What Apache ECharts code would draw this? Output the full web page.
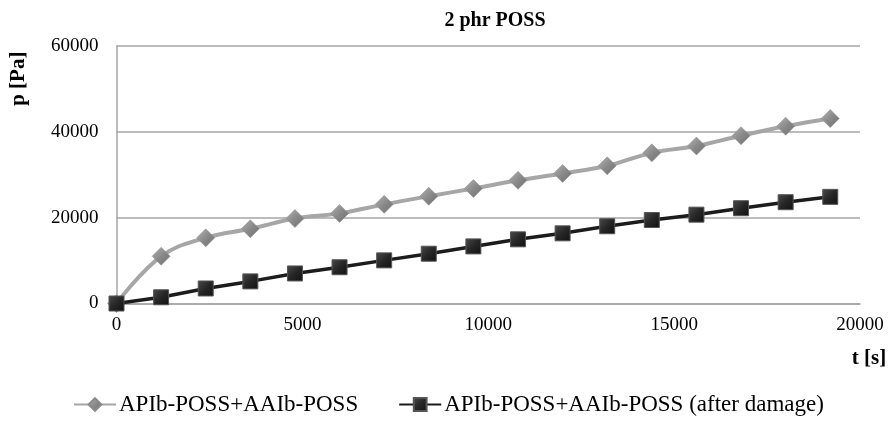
<!DOCTYPE html>
<html>
<head>
<meta charset="utf-8">
<script src="https://cdn.jsdelivr.net/npm/echarts@6/dist/echarts.min.js"></script>
<style>html,body{margin:0;padding:0;background:#fff}#c{width:893px;height:424px}</style>
</head>
<body>
<div id="c"></div>
<script>
const titleText = '2 phr POSS';
const xName = 't [s]';
const yName = 'p [Pa]';
const times = [0,1200,2400,3600,4800,6000,7200,8400,9600,10800,12000,13200,14400,15600,16800,18000,19200];
const seriesNames = ['APIb-POSS+AAIb-POSS', 'APIb-POSS+AAIb-POSS (after damage)'];
const pBefore = [0,11000,15300,17400,19800,21000,23100,25000,26800,28700,30300,32100,35100,36700,39100,41300,43100];
const pAfter = [0,1450,3500,5150,7000,8450,10050,11600,13300,14950,16350,18000,19450,20700,22200,23600,24850];

const toPairs = (xs, ys) => xs.map((x, i) => [x, ys[i]]);
const font = 'Liberation Serif';
const plain = v => String(v);

const chart = echarts.init(document.getElementById('c'), null, {renderer: 'canvas'});
chart.setOption({
  animation: false,
  backgroundColor: '#fff',
  title: {
    text: titleText,
    left: 490, top: 6, textAlign: 'center',
    textStyle: {fontFamily: font, fontWeight: 'bold', fontSize: 20, color: '#000'}
  },
  grid: {left: 116, right: 33, top: 46, bottom: 120.5, containLabel: false},
  xAxis: {
    type: 'value', min: 0, max: 20000, interval: 5000,
    name: xName, nameLocation: 'end', nameGap: 0,
    nameTextStyle: {fontFamily: font, fontWeight: 'bold', fontSize: 21, color: '#000',
      align: 'center', verticalAlign: 'top', padding: [45, 0, 0, 18]},
    axisLine: {show: true, lineStyle: {color: '#a6a6a6', width: 1.5}},
    axisTick: {show: false},
    splitLine: {show: false},
    axisLabel: {fontFamily: font, fontSize: 19, color: '#000', margin: 12, formatter: plain}
  },
  yAxis: {
    type: 'value', min: 0, max: 60000, interval: 20000,
    name: yName, nameLocation: 'middle', nameRotate: 90, nameGap: 98,
    nameTextStyle: {fontFamily: font, fontWeight: 'bold', fontSize: 21, color: '#000',
      align: 'center', verticalAlign: 'middle', padding: [0, 0, 0, 192]},
    axisLine: {show: true, lineStyle: {color: '#a6a6a6', width: 1.5}},
    axisTick: {show: false},
    splitLine: {show: true, lineStyle: {color: '#a6a6a6', width: 1.5}},
    axisLabel: {fontFamily: font, fontSize: 19, color: '#000', margin: 18, formatter: plain}
  },
  legend: {
    left: 68, top: 388,
    itemWidth: 42, itemHeight: 16, itemGap: 40,
    textStyle: {fontFamily: font, fontSize: 23, color: '#000', padding: [0, 0, 0, -2]},
    data: seriesNames
  },
  series: [
    {
      name: seriesNames[0], type: 'line', smooth: 0.4,
      data: toPairs(times, pBefore),
      symbol: 'diamond', symbolSize: 18,
      lineStyle: {color: '#a6a6a6', width: 4},
      itemStyle: {
        color: new echarts.graphic.LinearGradient(0, 0, 1, 1, [
          {offset: 0, color: '#b4b4b4'}, {offset: 0.5, color: '#8a8a8a'}, {offset: 1, color: '#6e6e6e'}
        ]),
        borderColor: '#8a8a8a', borderWidth: 0.5
      },
      z: 2
    },
    {
      name: seriesNames[1], type: 'line', smooth: false,
      data: toPairs(times, pAfter),
      symbol: 'rect', symbolSize: 15,
      lineStyle: {color: '#1c1c1c', width: 3.5},
      itemStyle: {
        color: new echarts.graphic.LinearGradient(0, 0, 1, 1, [
          {offset: 0, color: '#4a4a4a'}, {offset: 0.5, color: '#262626'}, {offset: 1, color: '#111'}
        ]),
        borderColor: '#555', borderWidth: 1
      },
      z: 3
    }
  ]
});
</script>
</body>
</html>
